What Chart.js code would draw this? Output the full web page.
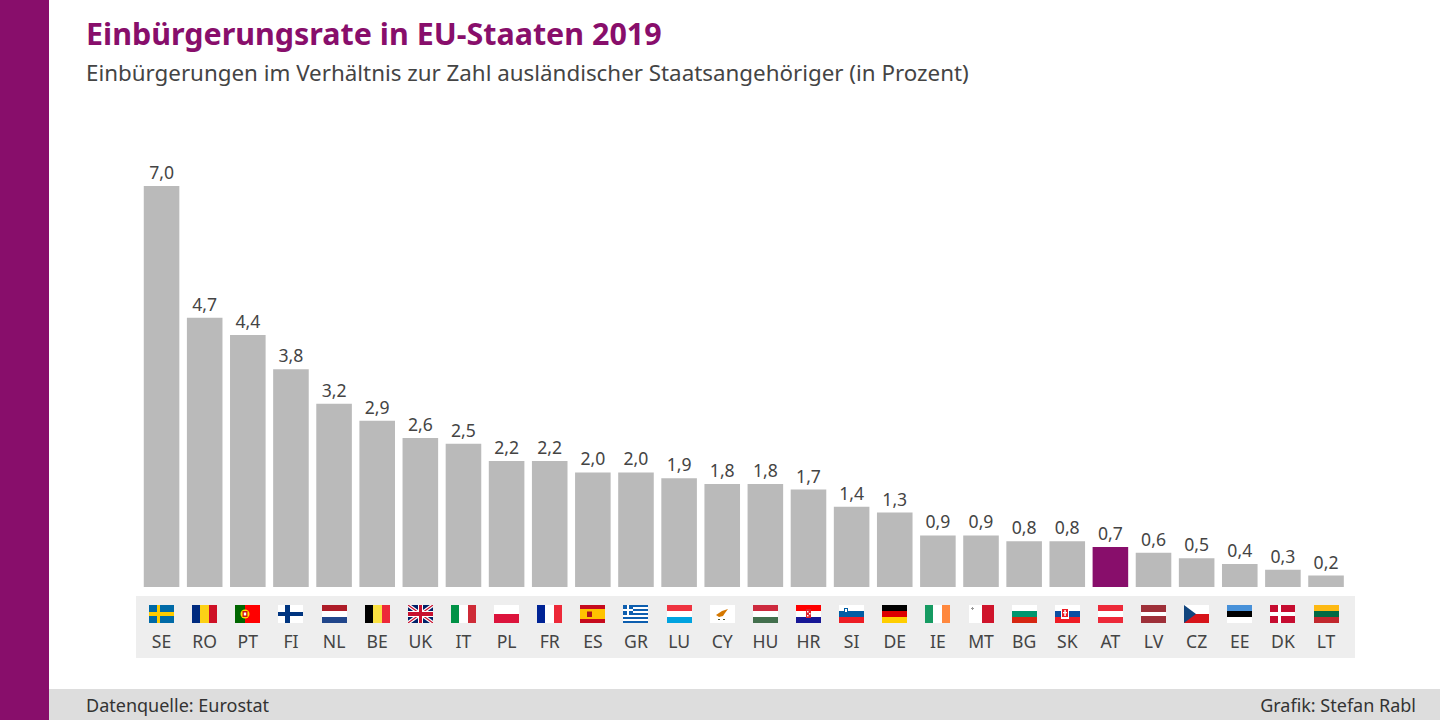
<!DOCTYPE html>
<html lang="de">
<head>
<meta charset="utf-8">
<title>Einbürgerungsrate in EU-Staaten 2019</title>
<script src="https://cdn.jsdelivr.net/npm/chart.js@4"></script>
<style>
  html, body { margin: 0; padding: 0; background: #fff; overflow: hidden; }
  body { width: 1440px; height: 720px; position: relative; font-family: "Noto Sans", sans-serif; }
  #side { position: absolute; left: 0; top: 0; width: 49px; height: 720px; background: #880e6b; }
  #foot { position: absolute; left: 49px; right: 0; top: 689px; height: 31px; background: #dddddd; }
  h1, h2, .note { position: absolute; margin: 0; white-space: nowrap; }
  h1 { left: 86px; top: 13px; font-size: 30.45px; line-height: 40px; font-weight: 700; color: #880e6b; }
  h2 { left: 86px; top: 58px; font-size: 22.35px; line-height: 30px; font-weight: 400; color: #444444; }
  .note { top: 693px; font-size: 18px; line-height: 24px; color: #333333; }
  #source { left: 86px; }
  #credit { right: 24px; }
  canvas { position: absolute; left: 0; top: 0; }
  #wrap { position: absolute; left: 49px; top: 100px; width: 1391px; height: 589px; }
</style>
</head>
<body>
<div id="side"></div>
<h1>Einbürgerungsrate in EU-Staaten 2019</h1>
<h2>Einbürgerungen im Verhältnis zur Zahl ausländischer Staatsangehöriger (in Prozent)</h2>
<div id="wrap"><canvas id="rateChart" width="1391" height="589"></canvas></div>
<div id="foot"></div>
<div class="note" id="source">Datenquelle: Eurostat</div>
<div class="note" id="credit">Grafik: Stefan Rabl</div>

<script>
const countries = ["SE", "RO", "PT", "FI", "NL", "BE", "UK", "IT", "PL", "FR", "ES", "GR", "LU", "CY", "HU", "HR", "SI", "DE", "IE", "MT", "BG", "SK", "AT", "LV", "CZ", "EE", "DK", "LT"];
const rates = [7.0, 4.7, 4.4, 3.8, 3.2, 2.9, 2.6, 2.5, 2.2, 2.2, 2.0, 2.0, 1.9, 1.8, 1.8, 1.7, 1.4, 1.3, 0.9, 0.9, 0.8, 0.8, 0.7, 0.6, 0.5, 0.4, 0.3, 0.2];
const highlighted = "AT";

const PURPLE = "#880e6b";
const GREY = "#bababa";

// plain stripes, "h" = top to bottom, "v" = left to right
const stripes = {
  RO: ["v", "#002b7f", "#fcd116", "#ce1126"],
  BE: ["v", "#000000", "#fae042", "#ed2939"],
  IT: ["v", "#009246", "#ffffff", "#ce2b37"],
  FR: ["v", "#002395", "#ffffff", "#ed2939"],
  IE: ["v", "#169b62", "#ffffff", "#ff883e"],
  NL: ["h", "#ae1c28", "#ffffff", "#21468b"],
  PL: ["h", "#ffffff", "#dc143c"],
  LU: ["h", "#ef3340", "#ffffff", "#00a3e0"],
  HU: ["h", "#cd2a3e", "#ffffff", "#436f4d"],
  HR: ["h", "#ff0000", "#ffffff", "#171796"],
  SI: ["h", "#ffffff", "#005da4", "#ed1c24"],
  DE: ["h", "#000000", "#dd0000", "#ffce00"],
  BG: ["h", "#ffffff", "#00966e", "#d62612"],
  SK: ["h", "#ffffff", "#0b4ea2", "#ee1c25"],
  AT: ["h", "#ed2939", "#ffffff", "#ed2939"],
  EE: ["h", "#4891d9", "#000000", "#ffffff"],
  LT: ["h", "#fdb913", "#006a44", "#c1272d"],
  CY: ["h", "#ffffff"]
};

function nordicCross(c, x, y, w, h, bg, cross, vx, vw) {
  c.fillStyle = bg;
  c.fillRect(x, y, w, h);
  c.fillStyle = cross;
  c.fillRect(x + vx, y, vw, h);
  c.fillRect(x, y + 7, w, 4);
}

// the few flags that are more than stripes get a small sketch on top
const extras = {
  SE: (c, x, y, w, h) => nordicCross(c, x, y, w, h, "#006aa7", "#fecc00", 8, 3),
  FI: (c, x, y, w, h) => nordicCross(c, x, y, w, h, "#ffffff", "#003580", 7, 5),
  DK: (c, x, y, w, h) => nordicCross(c, x, y, w, h, "#c60c30", "#ffffff", 8, 3),
  LV: (c, x, y, w, h) => {
    c.fillStyle = "#9e3039"; c.fillRect(x, y, w, h);
    c.fillStyle = "#ffffff"; c.fillRect(x, y + 7, w, 4);
  },
  PT: (c, x, y, w, h) => {
    c.fillStyle = "#ff0000"; c.fillRect(x, y, w, h);
    c.fillStyle = "#006600"; c.fillRect(x, y, 10, h);
    c.fillStyle = "#ffe000"; c.beginPath(); c.arc(x + 10, y + h / 2, 4.5, 0, 7); c.fill();
    c.fillStyle = "#d01010"; c.fillRect(x + 7.5, y + 6, 5, 6);
    c.fillStyle = "#ffffff"; c.fillRect(x + 8.8, y + 7.5, 2.4, 3);
  },
  UK: (c, x, y, w, h) => {
    c.save();
    c.beginPath(); c.rect(x, y, w, h); c.clip();
    c.fillStyle = "#012169"; c.fillRect(x, y, w, h);
    c.lineWidth = 3.6; c.strokeStyle = "#ffffff";
    c.beginPath(); c.moveTo(x, y); c.lineTo(x + w, y + h); c.moveTo(x + w, y); c.lineTo(x, y + h); c.stroke();
    c.lineWidth = 1.2; c.strokeStyle = "#c8102e";
    c.beginPath(); c.moveTo(x, y); c.lineTo(x + w, y + h); c.moveTo(x + w, y); c.lineTo(x, y + h); c.stroke();
    c.fillStyle = "#ffffff"; c.fillRect(x + 10, y, 5, h); c.fillRect(x, y + 6, w, 6);
    c.fillStyle = "#c8102e"; c.fillRect(x + 11, y, 3, h); c.fillRect(x, y + 7, w, 4);
    c.restore();
  },
  ES: (c, x, y, w, h) => {
    c.fillStyle = "#c60b1e"; c.fillRect(x, y, w, h);
    c.fillStyle = "#ffc400"; c.fillRect(x, y + 4, w, 10);
    c.fillStyle = "#ad1519"; c.fillRect(x + 7, y + 6.5, 5, 5.5);
  },
  GR: (c, x, y, w, h) => {
    c.fillStyle = "#ffffff"; c.fillRect(x, y, w, h);
    c.fillStyle = "#0d5eaf";
    for (let i = 0; i < 9; i += 2) c.fillRect(x, y + i * 2, w, 2);
    c.fillRect(x, y, 10, 10);
    c.fillStyle = "#ffffff"; c.fillRect(x + 4, y, 2, 10); c.fillRect(x, y + 4, 10, 2);
  },
  CY: (c, x, y, w, h) => {
    c.fillStyle = "#d57800";
    c.beginPath();
    c.moveTo(x + 6, y + 10); c.lineTo(x + 12, y + 6); c.lineTo(x + 18, y + 4); c.lineTo(x + 15, y + 8);
    c.lineTo(x + 13, y + 11); c.lineTo(x + 9, y + 12); c.closePath(); c.fill();
    c.fillStyle = "#4e5b31"; c.fillRect(x + 8, y + 14, 2, 1); c.fillRect(x + 13, y + 14, 2, 1);
  },
  HR: (c, x, y, w, h) => {
    c.fillStyle = "#e0202c"; c.fillRect(x + 10, y + 4, 5, 9);
    c.fillStyle = "#ffffff"; c.fillRect(x + 11, y + 6, 1.5, 1.5); c.fillRect(x + 13, y + 8, 1.5, 1.5); c.fillRect(x + 11, y + 10, 1.5, 1.5);
  },
  SI: (c, x, y, w, h) => {
    c.fillStyle = "#005da4"; c.fillRect(x + 5, y + 3, 4, 6);
    c.fillStyle = "#ffffff"; c.fillRect(x + 6, y + 4, 2, 3);
  },
  SK: (c, x, y, w, h) => {
    c.fillStyle = "#ffffff"; c.fillRect(x + 6, y + 3, 8, 11);
    c.fillStyle = "#ee1c25"; c.fillRect(x + 7, y + 4, 6, 8);
    c.fillStyle = "#ffffff"; c.fillRect(x + 9.3, y + 5, 1.5, 6); c.fillRect(x + 8, y + 7, 4, 1.3);
  },
  MT: (c, x, y, w, h) => {
    c.fillStyle = "#ffffff"; c.fillRect(x, y, 13, h);
    c.fillStyle = "#cf142b"; c.fillRect(x + 13, y, 12, h);
    c.fillStyle = "#999999"; c.fillRect(x + 2, y + 3, 3, 1); c.fillRect(x + 3, y + 2, 1, 3);
  },
  CZ: (c, x, y, w, h) => {
    c.fillStyle = "#ffffff"; c.fillRect(x, y, w, 9);
    c.fillStyle = "#d7141a"; c.fillRect(x, y + 9, w, 9);
    c.fillStyle = "#11457e";
    c.beginPath(); c.moveTo(x, y); c.lineTo(x + 12, y + 9); c.lineTo(x, y + h); c.closePath(); c.fill();
  }
};

function drawFlag(c, code, x, y, w, h) {
  const s = stripes[code];
  if (s) {
    const colors = s.slice(1);
    colors.forEach((col, i) => {
      c.fillStyle = col;
      // whole pixels, so neighbouring stripes leave no seam
      if (s[0] === "v") {
        const a = Math.round(i * w / colors.length), b = Math.round((i + 1) * w / colors.length);
        c.fillRect(x + a, y, b - a, h);
      } else {
        const a = Math.round(i * h / colors.length), b = Math.round((i + 1) * h / colors.length);
        c.fillRect(x, y + a, w, b - a);
      }
    });
  }
  if (extras[code]) extras[code](c, x, y, w, h);
}

const canvas = document.getElementById("rateChart");
// opaque canvas so the text renders like the page text
const ctx = canvas.getContext("2d", { alpha: false });

const stripPlugin = {
  id: "strip",
  beforeDraw(chart) {
    const c = chart.ctx;
    c.fillStyle = "#ffffff";
    c.fillRect(0, 0, chart.width, chart.height);
    // grey panel behind flags and codes
    c.fillStyle = "#eeeeee";
    c.fillRect(87, 496, 1219, 62);
    const xScale = chart.scales.x;
    countries.forEach((code, i) => {
      drawFlag(c, code, Math.round(xScale.getPixelForValue(i) - 12.5), 505, 25, 18);
    });
  },
  afterDatasetsDraw(chart) {
    const c = chart.ctx;
    c.font = "17.6px 'Noto Sans'";
    c.fillStyle = "#444444";
    c.textAlign = "center";
    c.textBaseline = "alphabetic";
    chart.getDatasetMeta(0).data.forEach((bar, i) => {
      c.fillText(rates[i].toFixed(1).replace(".", ","), bar.x, bar.y - 7);
    });
  }
};

new Chart(ctx, {
  type: "bar",
  data: {
    labels: countries,
    datasets: [{
      data: rates,
      backgroundColor: countries.map(c => c === highlighted ? PURPLE : GREY),
      categoryPercentage: 1,
      barPercentage: 0.825
    }]
  },
  options: {
    responsive: false,
    animation: false,
    layout: { padding: { left: 91, right: 92.4, top: 86, bottom: 0 } },
    plugins: { legend: { display: false }, tooltip: { enabled: false } },
    scales: {
      x: {
        afterFit(scale) { scale.height = 102; },
        grid: { display: false },
        border: { display: false },
        ticks: {
          autoSkip: false,
          maxRotation: 0,
          padding: 37,
          color: "#444444",
          font: { family: "'Noto Sans'", size: 17.6 }
        }
      },
      y: { display: false, min: 0, max: 7 }
    }
  },
  plugins: [stripPlugin]
});
</script>
</body>
</html>
